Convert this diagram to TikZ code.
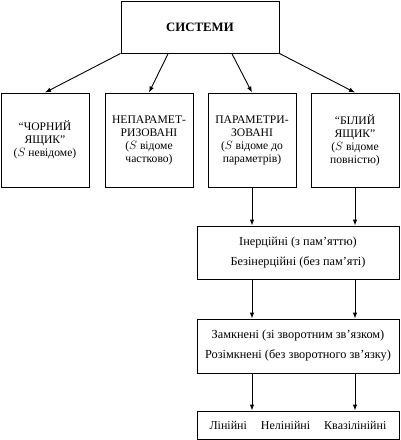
\documentclass[tikz,border=0pt]{standalone}
\usepackage{fontspec}
\setmainfont{Liberation Serif}
\usetikzlibrary{arrows.meta,calc}
\tikzset{
  >={Latex[length=6pt,width=4.5pt]},
  box/.style={draw=black,line width=0.9pt,minimum width=88pt,minimum height=94pt,
    inner sep=1pt,align=center,font=\fontsize{11.6}{13}\selectfont},
  wide/.style={draw=black,line width=0.9pt,minimum width=202pt,minimum height=#1,
    inner sep=2pt,align=center,font=\fontsize{12.3}{20}\selectfont},
  wide/.default=53pt,
  flow/.style={->,line width=0.9pt},
}
\begin{document}
\begin{tikzpicture}[x=1pt,y=-1pt]
    \useasboundingbox (0,0) rectangle (400,440);
    \node[draw=black,line width=0.9pt,minimum width=158pt,minimum height=52pt,font=\fontsize{12.8}{14}\selectfont\bfseries] (sys) at (200,27) {СИСТЕМИ};
    % four kinds
    \node[box] (black) at (45,140) {“ЧОРНИЙ\\ЯЩИК”\\($S$ невідоме)};
    \node[box] (nonpar) at (149,140) {НЕПАРАМЕТ-\\РИЗОВАНІ\\($S$ відоме\\частково)};
    \node[box] (par) at (252,140) {ПАРАМЕТРИ-\\ЗОВАНІ\\($S$ відоме до\\параметрів)};
    \node[box] (white) at (355,140) {“БІЛИЙ\\ЯЩИК”\\($S$ відоме\\повністю)};
    \draw[flow] (sys.south west) -- (black.north);
    \draw[flow] ($(sys.south west)!0.3!(sys.south east)$) -- (nonpar.north);
    \draw[flow] ($(sys.south west)!0.7!(sys.south east)$) -- (par.north);
    \draw[flow] (sys.south east) -- (white.north);
    % chain below
    \node[wide] (inert) at (298,252.5) {Інерційні (з пам’яттю)\\Безінерційні (без пам’яті)};
    \node[wide=54pt] (closed) at (298,346) {Замкнені (зі зворотним зв’язком)\\Розімкнені (без зворотного зв’язку)};
    \node[wide=28pt,font=\fontsize{12}{14}\selectfont] (lin) at (298,425) {Лінійні\hspace{14pt}Нелінійні\hspace{14pt}Квазілінійні};
    \draw[flow] (par.south) -- (par.south |- inert.north);
    \draw[flow] (white.south) -- (white.south |- inert.north);
    \draw[flow] (par.south |- inert.south) -- (par.south |- closed.north);
    \draw[flow] (white.south |- inert.south) -- (white.south |- closed.north);
    \draw[flow] (par.south |- closed.south) -- (par.south |- lin.north);
    \draw[flow] (white.south |- closed.south) -- (white.south |- lin.north);
\end{tikzpicture}
\end{document}
